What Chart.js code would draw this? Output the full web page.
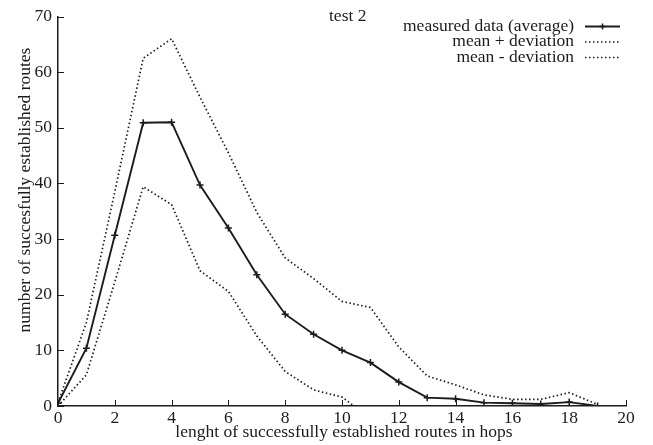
<!DOCTYPE html>
<html>
<head>
<meta charset="utf-8">
<script src="https://cdn.jsdelivr.net/npm/chart.js@4"></script>
<style>
  html, body { margin: 0; padding: 0; background: #fff; }
  #wrap { width: 653px; height: 445px; }
</style>
</head>
<body>
<div id="wrap"><canvas id="myChart" width="653" height="445"></canvas></div>
<script>
// hop counts on the x axis
const hops = [0, 1, 2, 3, 4, 5, 6, 7, 8, 9, 10, 11, 12, 13, 14, 15, 16, 17, 18, 19];
// measured average
const meanData = [0.5, 10.4, 30.7, 50.9, 51.0, 39.7, 32.0, 23.6, 16.5, 12.9, 10.0, 7.8, 4.3, 1.5, 1.3, 0.6, 0.5, 0.35, 0.7, 0.0];
// mean + deviation
const upperData = [0.6, 15.0, 38.5, 62.5, 66.0, 55.5, 45.5, 34.8, 26.6, 22.9, 18.8, 17.7, 10.6, 5.4, 3.8, 2.0, 1.2, 1.2, 2.4, 0.3];
// mean - deviation (goes under zero after 10, clipped by the axis)
const lowerData = [0.0, 5.6, 22.3, 39.4, 36.2, 24.3, 20.6, 12.6, 6.2, 2.9, 1.6, -2.2, -1.9, -2.3, -1.2, -0.8, -0.3, -0.5, -1.0, -0.3];
const xTicks = [0, 2, 4, 6, 8, 10, 12, 14, 16, 18, 20];
const yTicks = [0, 10, 20, 30, 40, 50, 60, 70];

const seriesLabels = ["measured data (average)", "mean + deviation", "mean - deviation"];
const chartTitle = "test 2";
const xTitle = "lenght of successfully established routes in hops";
const yTitle = "number of succesfully established routes";

const ink = "#1c1c1c";
const serif = "'Liberation Serif', 'DejaVu Serif', serif";
const fontSize = 17.5;

const toPoints = (arr) => arr.map((v, i) => ({ x: hops[i], y: v }));

// inward tick marks, titles and a text-first legend like the original
const decorations = {
  id: "decorations",
  afterDraw(chart) {
    const ctx = chart.ctx;
    const xs = chart.scales.x;
    const ys = chart.scales.y;
    const area = chart.chartArea;
    ctx.save();
    ctx.strokeStyle = ink;
    ctx.lineWidth = 1;
    xTicks.forEach((t) => {
      const px = Math.round(xs.getPixelForValue(t)) + 0.5;
      ctx.beginPath();
      ctx.moveTo(px, area.bottom);
      ctx.lineTo(px, area.bottom - 6);
      ctx.stroke();
    });
    yTicks.forEach((t) => {
      const py = Math.round(ys.getPixelForValue(t)) + 0.5;
      ctx.beginPath();
      ctx.moveTo(area.left, py);
      ctx.lineTo(area.left + 6, py);
      ctx.stroke();
    });

    ctx.fillStyle = ink;
    ctx.font = fontSize + "px " + serif;
    ctx.textBaseline = "middle";

    // axis titles
    ctx.textAlign = "center";
    ctx.fillText(xTitle, (area.left + area.right) / 2 + 2, 432);
    ctx.save();
    ctx.translate(25, 190);
    ctx.rotate(-Math.PI / 2);
    ctx.fillText(yTitle, 0, 0);
    ctx.restore();

    ctx.textAlign = "left";
    ctx.fillText(chartTitle, 329, 16);

    // legend
    const textRight = 574;
    const sampleL = 585;
    const sampleR = 620;
    chart.data.datasets.forEach((ds, i) => {
      const y = 26 + i * 15.5;
      ctx.textAlign = "right";
      ctx.fillStyle = ink;
      ctx.fillText(ds.label, textRight, y);
      ctx.beginPath();
      ctx.strokeStyle = ds.borderColor;
      ctx.lineWidth = ds.borderWidth;
      ctx.setLineDash(ds.borderDash || []);
      ctx.moveTo(sampleL, y + 0.5);
      ctx.lineTo(sampleR, y + 0.5);
      ctx.stroke();
      ctx.setLineDash([]);
      if (ds.pointRadius > 0) {
        const cx = (sampleL + sampleR) / 2;
        ctx.lineWidth = 1.5;
        ctx.beginPath();
        ctx.moveTo(cx - 3, y + 0.5);
        ctx.lineTo(cx + 3, y + 0.5);
        ctx.moveTo(cx, y - 2.5);
        ctx.lineTo(cx, y + 3.5);
        ctx.stroke();
      }
    });
    ctx.restore();
  }
};

const ctx = document.getElementById("myChart").getContext("2d");
const myChart = new Chart(ctx, {
  type: "line",
  data: {
    datasets: [
      {
        label: seriesLabels[0],
        data: toPoints(meanData),
        borderColor: ink,
        borderWidth: 1.9,
        pointStyle: "cross",
        pointRadius: 3.5,
        pointBorderWidth: 1.5,
        pointBorderColor: ink,
        tension: 0,
      },
      {
        label: seriesLabels[1],
        data: toPoints(upperData),
        borderColor: ink,
        borderWidth: 1.7,
        borderDash: [1.5, 2.5],
        pointRadius: 0,
        tension: 0,
      },
      {
        label: seriesLabels[2],
        data: toPoints(lowerData),
        borderColor: ink,
        borderWidth: 1.7,
        borderDash: [1.5, 2.5],
        pointRadius: 0,
        tension: 0,
      },
    ],
  },
  options: {
    responsive: false,
    animation: false,
    layout: { padding: { top: 15, right: 27, left: 0, bottom: 0 } },
    plugins: {
      legend: { display: false },
      title: { display: false },
      tooltip: { enabled: false },
    },
    scales: {
      x: {
        type: "linear",
        min: 0,
        max: 20,
        grid: { display: false, drawTicks: false },
        border: { display: true, color: ink, width: 1.5 },
        afterBuildTicks: (scale) => { scale.ticks = xTicks.map((v) => ({ value: v })); },
        afterFit: (scale) => { scale.height = 39; },
        ticks: {
          color: ink,
          padding: 2,
          maxRotation: 0,
          font: { family: serif, size: fontSize },
        },
      },
      y: {
        min: 0,
        max: 70,
        grid: { display: false, drawTicks: false },
        border: { display: true, color: ink, width: 1.5 },
        afterBuildTicks: (scale) => { scale.ticks = yTicks.map((v) => ({ value: v })); },
        afterFit: (scale) => { scale.width = 58; },
        ticks: {
          color: ink,
          padding: 6,
          font: { family: serif, size: fontSize },
        },
      },
    },
  },
  plugins: [decorations],
});
</script>
</body>
</html>
